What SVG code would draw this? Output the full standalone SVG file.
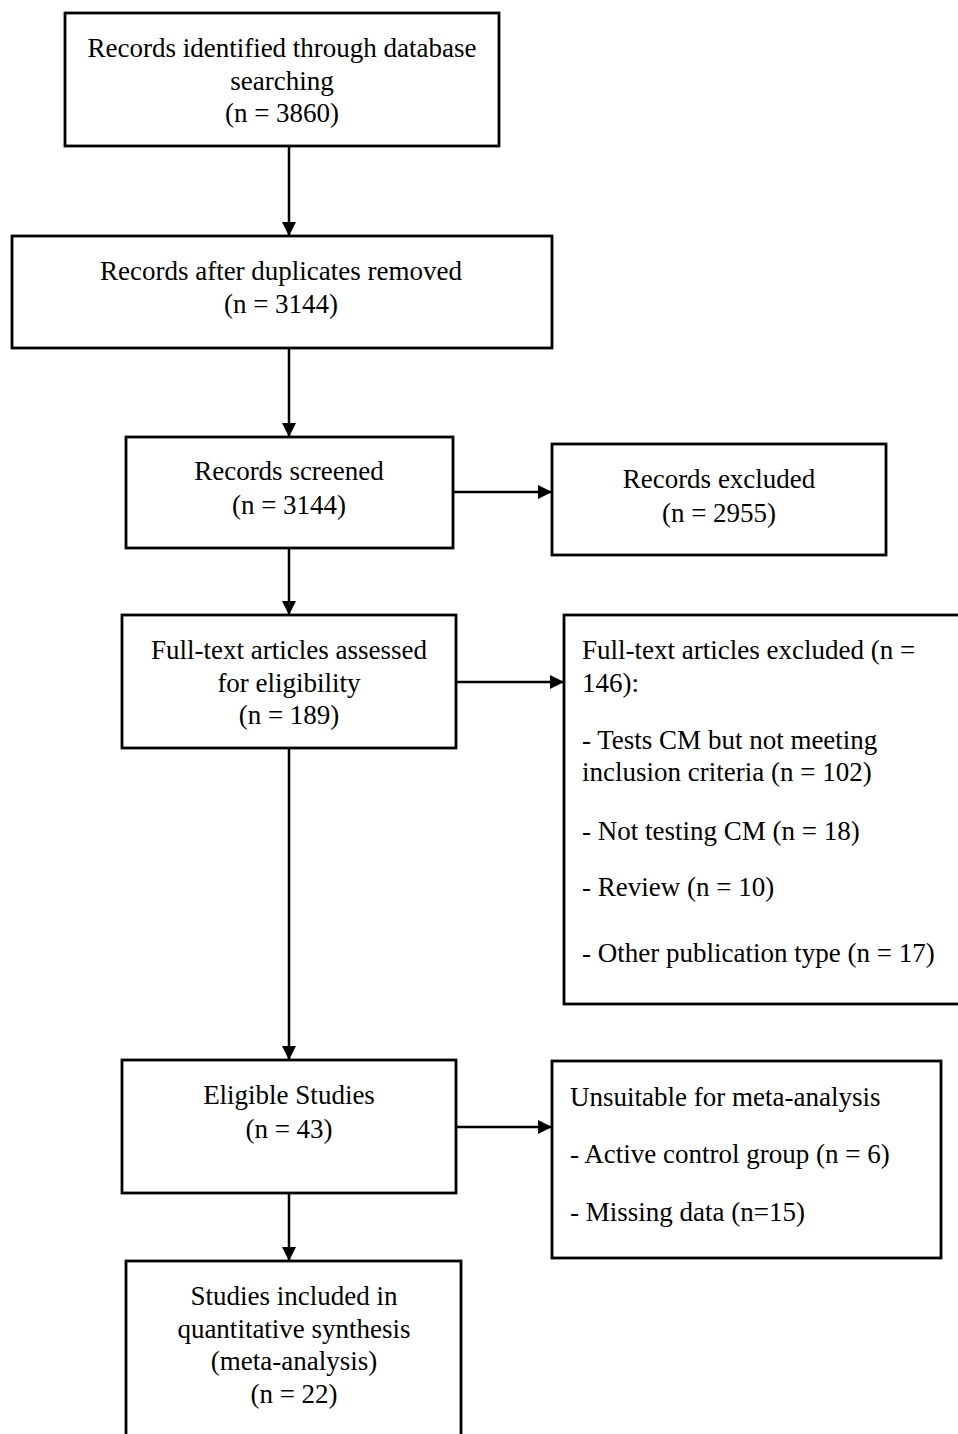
<svg xmlns="http://www.w3.org/2000/svg" width="958" height="1434" viewBox="0 0 958 1434">
<style>
.box{fill:#fff;stroke:#000;stroke-width:2.8}
.t{font-family:"Liberation Serif","Times New Roman",serif;font-size:27px;fill:#000}
.c{text-anchor:middle}
.edge{stroke:#000;stroke-width:2.5;fill:none}
</style>
<defs>
<marker id="ahd" markerWidth="14" markerHeight="14" refX="14" refY="7" orient="auto" markerUnits="userSpaceOnUse" viewBox="0 0 14 14">
<path d="M0,0 L14,7 L0,14 z" fill="#000"/>
</marker>
</defs>
<rect width="958" height="1434" fill="#fff"/>
<g id="connectors">
<line class="edge" x1="289" y1="146" x2="289" y2="236" marker-end="url(#ahd)"/>
<line class="edge" x1="289" y1="348" x2="289" y2="437" marker-end="url(#ahd)"/>
<line class="edge" x1="453" y1="492" x2="552" y2="492" marker-end="url(#ahd)"/>
<line class="edge" x1="289" y1="548" x2="289" y2="615" marker-end="url(#ahd)"/>
<line class="edge" x1="456" y1="682" x2="564" y2="682" marker-end="url(#ahd)"/>
<line class="edge" x1="289" y1="748" x2="289" y2="1060" marker-end="url(#ahd)"/>
<line class="edge" x1="456" y1="1127" x2="552" y2="1127" marker-end="url(#ahd)"/>
<line class="edge" x1="289" y1="1193" x2="289" y2="1261" marker-end="url(#ahd)"/>
</g>
<g id="n1">
<rect class="box" x="65" y="13" width="434" height="133"/>
<text class="t c" x="282" y="57">Records identified through database</text>
<text class="t c" x="282" y="90">searching</text>
<text class="t c" x="282" y="122">(n = 3860)</text>
</g>
<g id="n2">
<rect class="box" x="12" y="236" width="540" height="112"/>
<text class="t c" x="281" y="280">Records after duplicates removed</text>
<text class="t c" x="281" y="313">(n = 3144)</text>
</g>
<g id="n3">
<rect class="box" x="126" y="437" width="327" height="111"/>
<text class="t c" x="289" y="480">Records screened</text>
<text class="t c" x="289" y="514">(n = 3144)</text>
</g>
<g id="n4">
<rect class="box" x="552" y="444" width="334" height="111"/>
<text class="t c" x="719" y="488">Records excluded</text>
<text class="t c" x="719" y="522">(n = 2955)</text>
</g>
<g id="n5">
<rect class="box" x="122" y="615" width="334" height="133"/>
<text class="t c" x="289" y="659">Full-text articles assessed</text>
<text class="t c" x="289" y="692">for eligibility</text>
<text class="t c" x="289" y="724">(n = 189)</text>
</g>
<g id="n6">
<rect class="box" x="564" y="615" width="420" height="389"/>
<text class="t" x="582" y="659">Full-text articles excluded (n =</text>
<text class="t" x="582" y="692">146):</text>
<text class="t" x="582" y="749">- Tests CM  but not meeting</text>
<text class="t" x="582" y="781">inclusion criteria (n = 102)</text>
<text class="t" x="582" y="840">- Not testing CM (n = 18)</text>
<text class="t" x="582" y="896">- Review (n = 10)</text>
<text class="t" x="582" y="962">- Other publication type (n = 17)</text>
</g>
<g id="n7">
<rect class="box" x="122" y="1060" width="334" height="133"/>
<text class="t c" x="289" y="1104">Eligible Studies</text>
<text class="t c" x="289" y="1138">(n = 43)</text>
</g>
<g id="n8">
<rect class="box" x="552" y="1061" width="389" height="197"/>
<text class="t" x="570" y="1106">Unsuitable for meta-analysis</text>
<text class="t" x="570" y="1163">- Active control group (n = 6)</text>
<text class="t" x="570" y="1221">- Missing data (n=15)</text>
</g>
<g id="n9">
<rect class="box" x="126" y="1261" width="335" height="200"/>
<text class="t c" x="294" y="1305">Studies included in</text>
<text class="t c" x="294" y="1338">quantitative synthesis</text>
<text class="t c" x="294" y="1370">(meta-analysis)</text>
<text class="t c" x="294" y="1403">(n = 22)</text>
</g>
</svg>
